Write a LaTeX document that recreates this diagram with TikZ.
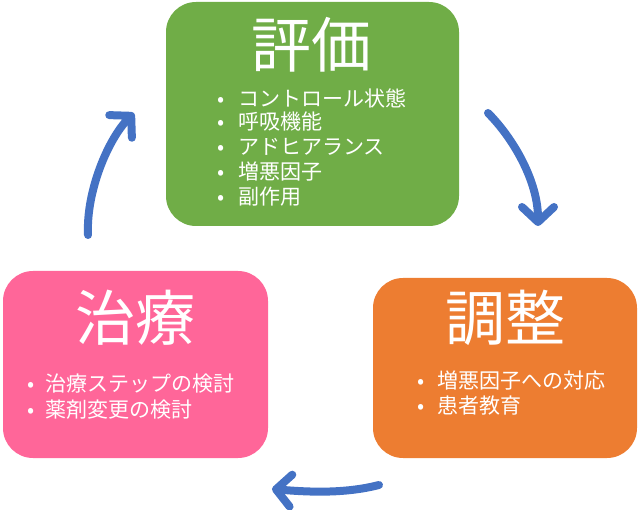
\documentclass[tikz,border=0pt]{standalone}
\usepackage{fontspec}
\setmainfont{Noto Sans CJK JP}
\usetikzlibrary{arrows.meta}
\definecolor{hyokagreen}{HTML}{70AD47}
\definecolor{choseiorange}{HTML}{ED7D31}
\definecolor{chiryopink}{HTML}{FF6699}
\definecolor{arrowblue}{HTML}{4472C4}
\begin{document}
\begin{tikzpicture}[x=1pt,y=-1pt,
  box/.style={rounded corners=30pt, inner sep=0pt},
  title/.style={text=white, font=\fontsize{60}{60}\selectfont},
  item/.style={text=white, anchor=west, inner sep=0pt, font=\fontsize{21}{24}\selectfont},
  cycle/.style={arrowblue, line width=8pt, line cap=round,
    -{Straight Barb[length=15pt, width=32pt, round]}}]
\useasboundingbox (0,0) rectangle (640,510);

% boxes
\node[box, fill=hyokagreen, minimum width=293pt, minimum height=224pt] (hyoka) at (312.5,114) {};
\node[box, fill=choseiorange, minimum width=264pt, minimum height=180pt] (chosei) at (505,368) {};
\node[box, fill=chiryopink, minimum width=265pt, minimum height=187pt] (chiryo) at (135.5,364.5) {};

% titles
\node[title] (hyokaT) at (311,45) {評価};
\node[title] (choseiT) at (505,318) {調整};
\node[title] (chiryoT) at (135,318) {治療};

% items
\node[item] (h1) at (217,98) {\makebox[21pt][l]{•}コントロール状態};
\node[item] (h2) at (217,122) {\makebox[21pt][l]{•}呼吸機能};
\node[item] (h3) at (217,147) {\makebox[21pt][l]{•}アドヒアランス};
\node[item] (h4) at (217,172) {\makebox[21pt][l]{•}増悪因子};
\node[item] (h5) at (217,197) {\makebox[21pt][l]{•}副作用};

\node[item] (c1) at (417,381) {\makebox[20pt][l]{•}増悪因子への対応};
\node[item] (c2) at (417,406) {\makebox[20pt][l]{•}患者教育};

\node[item] (t1) at (27,384) {\makebox[18pt][l]{•}治療ステップの検討};
\node[item] (t2) at (27,410) {\makebox[18pt][l]{•}薬剤変更の検討};

% arrows
\coordinate (a1) at (488,113);
\coordinate (a2) at (538,226);
\coordinate (b1) at (379,485);
\coordinate (b2) at (272,489);
\coordinate (d1) at (88,235);
\coordinate (d2) at (134,113);
\draw[cycle] (a1) .. controls +(25,25) and +(0,-45) .. (a2);
\draw[cycle] (b1) .. controls +(-35,9) and +(35,3) .. (b2);
\draw[cycle] (d1) .. controls +(-2,-45) and +(-25,25) .. (d2);
\end{tikzpicture}
\end{document}
